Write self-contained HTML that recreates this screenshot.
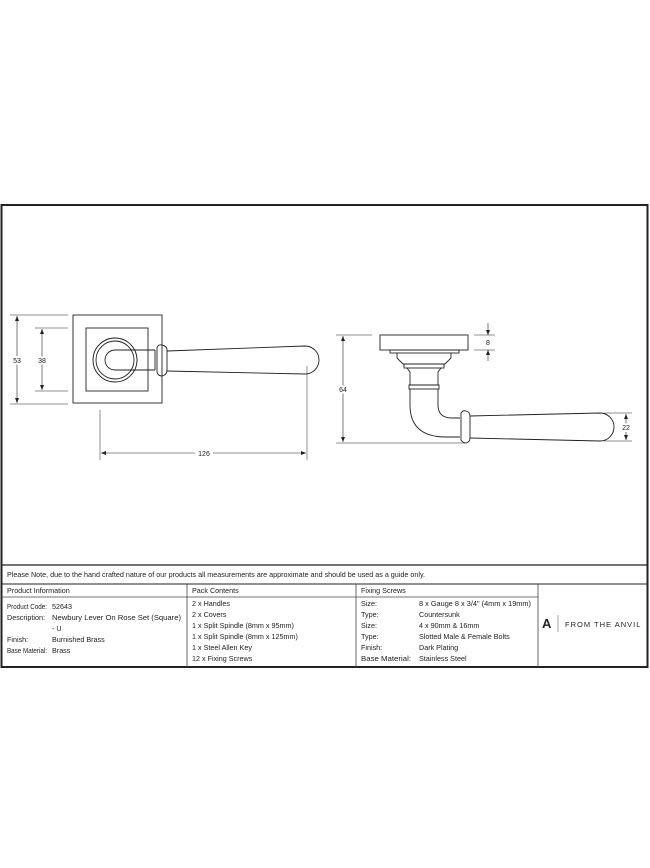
<!DOCTYPE html>
<html><head><style>
body{margin:0;background:#fff;}
svg{display:block;}
text{font-family:"Liberation Sans",sans-serif;fill:#222;}
</style></head><body>
<svg width="650" height="868" viewBox="0 0 650 868" xmlns="http://www.w3.org/2000/svg">
<rect x="1.5" y="205" width="646" height="462" fill="none" stroke="#222" stroke-width="2"/>
<line x1="1" y1="565" x2="648" y2="565" stroke="#222" stroke-width="1.2"/>
<line x1="1" y1="584" x2="648" y2="584" stroke="#222" stroke-width="1"/>
<line x1="1" y1="597" x2="538" y2="597" stroke="#444" stroke-width="0.8"/>
<line x1="187" y1="584" x2="187" y2="667" stroke="#444" stroke-width="0.8"/>
<line x1="356" y1="584" x2="356" y2="667" stroke="#444" stroke-width="0.8"/>
<line x1="538" y1="584" x2="538" y2="667" stroke="#444" stroke-width="0.8"/>
<g font-size="7.2">
<text x="7" y="577" textLength="418" lengthAdjust="spacingAndGlyphs">Please Note, due to the hand crafted nature of our products all measurements are approximate and should be used as a guide only.</text>
<text x="7" y="593">Product Information</text>
<text x="192" y="593">Pack Contents</text>
<text x="361" y="593">Fixing Screws</text>
<text x="7" y="609" textLength="40" lengthAdjust="spacingAndGlyphs">Product Code:</text><text x="52" y="609">52643</text>
<text x="7" y="620" textLength="38" lengthAdjust="spacingAndGlyphs">Description:</text><text x="52" y="620" textLength="129" lengthAdjust="spacingAndGlyphs">Newbury Lever On Rose Set (Square)</text>
<text x="52" y="631">- U</text>
<text x="7" y="642">Finish:</text><text x="52" y="642">Burnished Brass</text>
<text x="7" y="653" textLength="40" lengthAdjust="spacingAndGlyphs">Base Material:</text><text x="52" y="653">Brass</text>
<text x="192" y="606">2 x Handles</text>
<text x="192" y="617">2 x Covers</text>
<text x="192" y="628">1 x Split Spindle (8mm x 95mm)</text>
<text x="192" y="639">1 x Split Spindle (8mm x 125mm)</text>
<text x="192" y="650">1 x Steel Allen Key</text>
<text x="192" y="661">12 x Fixing Screws</text>
<text x="361" y="606">Size:</text><text x="419" y="606" textLength="112" lengthAdjust="spacingAndGlyphs">8 x Gauge 8 x 3/4" (4mm x 19mm)</text>
<text x="361" y="617">Type:</text><text x="419" y="617">Countersunk</text>
<text x="361" y="628">Size:</text><text x="419" y="628">4 x 90mm &amp; 16mm</text>
<text x="361" y="639">Type:</text><text x="419" y="639">Slotted Male &amp; Female Bolts</text>
<text x="361" y="650">Finish:</text><text x="419" y="650">Dark Plating</text>
<text x="361" y="661" textLength="50" lengthAdjust="spacingAndGlyphs">Base Material:</text><text x="419" y="661">Stainless Steel</text>
</g>
<text x="542" y="628" font-size="13" font-weight="bold">A</text>
<line x1="558" y1="615" x2="558" y2="632" stroke="#666" stroke-width="0.6"/>
<text x="565" y="627" font-size="7.5" letter-spacing="1">FROM THE ANVIL</text>

<g fill="none" stroke="#222" stroke-width="0.9">
<rect x="73" y="315" width="89" height="88"/>
<rect x="86" y="328" width="62" height="63"/>
<circle cx="115" cy="360" r="22"/>
<circle cx="115" cy="360" r="19"/>
<path d="M155 350 H115 A10 10 0 0 0 115 370 H155"/>
<path d="M155 350 V370"/>
<path d="M157 348 Q158 344 162 345 Q167 346 167 350 V370 Q167 375 162 376 Q158 376 157 372 Z"/>
<path d="M167 351 L305 346 A14 14 0 0 1 305 374 L167 371"/>
<line x1="10" y1="315" x2="68" y2="315" stroke-width="0.5"/>
<line x1="10" y1="404" x2="68" y2="404" stroke-width="0.5"/>
<line x1="17" y1="316" x2="17" y2="403" stroke-width="0.6"/>
<line x1="35" y1="328" x2="68" y2="328" stroke-width="0.5"/>
<line x1="35" y1="391" x2="68" y2="391" stroke-width="0.5"/>
<line x1="42" y1="329" x2="42" y2="390" stroke-width="0.6"/>
<line x1="100" y1="410" x2="100" y2="460" stroke-width="0.5"/>
<line x1="307" y1="366" x2="307" y2="460" stroke-width="0.5"/>
<line x1="101" y1="453" x2="195" y2="453" stroke-width="0.6"/>
<line x1="213" y1="453" x2="306" y2="453" stroke-width="0.6"/>
<rect x="380" y="335" width="88" height="15"/>
<rect x="390" y="350" width="69" height="3"/>
<path d="M397 353 V358 L403 364 H445 L451 358 V353"/>
<rect x="404" y="364" width="40" height="4"/>
<path d="M407 368 L410 372 V385 H438 V372 L441 368"/>
<rect x="409" y="385" width="30" height="4"/>
<path d="M410 389 V405 Q410 437 446 437 H460"/>
<path d="M438 389 V405 Q438 418 452 418 H460"/>
<path d="M461 413 Q463 410 466 411 Q470 412 470 416 V438 Q470 442 466 443 Q463 443 461 440 Z"/>
<path d="M470 416 L600 413 A14 14 0 0 1 600 441 L470 438"/>
<line x1="336" y1="335" x2="372" y2="335" stroke-width="0.5"/>
<line x1="336" y1="443" x2="465" y2="443" stroke-width="0.5"/>
<line x1="343" y1="336" x2="343" y2="442" stroke-width="0.6"/>
<line x1="474" y1="335" x2="495" y2="335" stroke-width="0.5"/>
<line x1="474" y1="350" x2="495" y2="350" stroke-width="0.5"/>
<line x1="488" y1="323" x2="488" y2="335" stroke-width="0.6"/>
<line x1="488" y1="350" x2="488" y2="361" stroke-width="0.6"/>
<line x1="604" y1="413" x2="632" y2="413" stroke-width="0.5"/>
<line x1="604" y1="441" x2="632" y2="441" stroke-width="0.5"/>
<line x1="626" y1="414" x2="626" y2="440" stroke-width="0.6"/>
</g>
<g fill="#222">
<path d="M17 316 l-2 5 h4 z M17 403 l-2 -5 h4 z"/>
<path d="M42 329 l-2 5 h4 z M42 390 l-2 -5 h4 z"/>
<path d="M101 453 l5 -2 v4 z M306 453 l-5 -2 v4 z"/>
<path d="M343 336 l-2 5 h4 z M343 442 l-2 -5 h4 z"/>
<path d="M488 335 l-2 -5 h4 z M488 350 l-2 5 h4 z"/>
<path d="M626 414 l-2 5 h4 z M626 440 l-2 -5 h4 z"/>
</g>
<g font-size="7">
<text x="17" y="363" text-anchor="middle" style="paint-order:stroke" stroke="#fff" stroke-width="4">53</text>
<text x="42" y="363" text-anchor="middle" style="paint-order:stroke" stroke="#fff" stroke-width="4">38</text>
<text x="204" y="456" text-anchor="middle">126</text>
<text x="343" y="392" text-anchor="middle" style="paint-order:stroke" stroke="#fff" stroke-width="4">64</text>
<text x="488" y="345" text-anchor="middle">8</text>
<text x="626" y="430" text-anchor="middle" style="paint-order:stroke" stroke="#fff" stroke-width="4">22</text>
</g>
</svg>
</body></html>
